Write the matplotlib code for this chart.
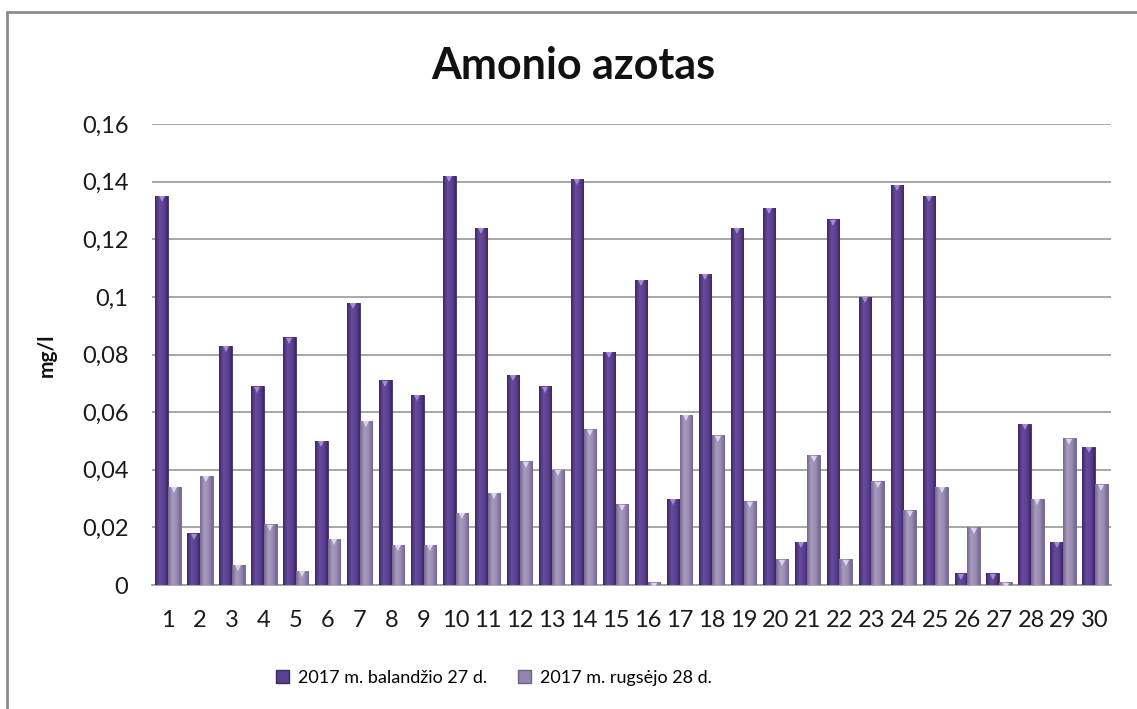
import matplotlib
matplotlib.use("Agg")
import matplotlib.pyplot as plt
import numpy as np
from matplotlib.colors import LinearSegmentedColormap
from matplotlib.patches import Rectangle

plt.rcParams['font.family'] = ['Lato', 'DejaVu Sans']

categories = [str(i) for i in range(1, 31)]
april = [0.135, 0.018, 0.083, 0.069, 0.086, 0.050, 0.098, 0.071, 0.066, 0.142,
         0.124, 0.073, 0.069, 0.141, 0.081, 0.106, 0.030, 0.108, 0.124, 0.131,
         0.015, 0.127, 0.100, 0.139, 0.135, 0.004, 0.004, 0.056, 0.015, 0.048]
september = [0.034, 0.038, 0.007, 0.021, 0.005, 0.016, 0.057, 0.014, 0.014, 0.025,
             0.032, 0.043, 0.040, 0.054, 0.028, 0.001, 0.059, 0.052, 0.029, 0.009,
             0.045, 0.009, 0.036, 0.026, 0.034, 0.020, 0.001, 0.030, 0.051, 0.035]
series_names = ['2017 m. balandžio 27 d.', '2017 m. rugsėjo 28 d.']
yticks = [0, 0.02, 0.04, 0.06, 0.08, 0.1, 0.12, 0.14, 0.16]
ytick_labels = ['0', '0,02', '0,04', '0,06', '0,08', '0,1', '0,12', '0,14', '0,16']

W, H = 1137, 709
fig = plt.figure(figsize=(W / 100, H / 100), dpi=100)
fig.patch.set_facecolor('white')

# chart border (extends beyond the picture at right and bottom)
fig.add_artist(Rectangle((7 / W, -0.05), 1.2, 1 - 12 / H + 0.05, transform=fig.transFigure,
                         fill=False, edgecolor='#8c8c8c', linewidth=2.0))

ax = fig.add_axes([152 / W, 1 - 585 / H, (1111 - 152) / W, (585 - 124) / H])
x = np.arange(len(categories))
bw = 0.39
dark_c = '#5a3f8c'
light_c = '#9484ae'
b1 = ax.bar(x - 0.2, april, bw, color=dark_c, edgecolor='#3e2a63', linewidth=0.6, zorder=3,
            label=series_names[0])
b2 = ax.bar(x + 0.2, september, bw, color=light_c, edgecolor='#6f6288', linewidth=0.6, zorder=3,
            label=series_names[1])

# horizontal shading of bars
grad = np.linspace(0, 1, 64).reshape(1, -1)
cm_dark = LinearSegmentedColormap.from_list('d', ['#3d2766', '#67499c', '#5e4290', '#3d2766'])
cm_light = LinearSegmentedColormap.from_list('l', ['#74668e', '#a99cc0', '#9a8bb3', '#74668e'])
for bars, cm in ((b1, cm_dark), (b2, cm_light)):
    for p in bars:
        x0, y0 = p.get_x(), p.get_y()
        w, h = p.get_width(), p.get_height()
        if h <= 0:
            continue
        im = ax.imshow(grad, cmap=cm, extent=(x0, x0 + w, y0, y0 + h), aspect='auto',
                       zorder=3.5, interpolation='bilinear')
        im.set_clip_path(p)

# small bevel highlight at the top of each bar
ax.plot(x - 0.2, np.array(april) - 0.0012, linestyle='none', marker='v', markersize=4.5,
        color='#a48cd0', markeredgewidth=0, zorder=4)
ax.plot(x + 0.2, np.array(september) - 0.0012, linestyle='none', marker='v', markersize=4.5,
        color='#ddd3ee', markeredgewidth=0, zorder=4)

ax.set_xlim(-0.5, len(categories) - 0.5)
ax.set_ylim(0, 0.16)
ax.set_yticks(yticks)
ax.set_yticklabels(ytick_labels)
ax.set_xticks(x)
ax.set_xticklabels(categories)
ax.tick_params(axis='both', length=0, labelsize=17, colors='#1a1a1a')
ax.tick_params(axis='y', pad=17)
ax.tick_params(axis='x', pad=18)
ax.grid(axis='y', color='#a0a0a0', linewidth=1.3, zorder=0)
ax.set_axisbelow(True)
for s in ['top', 'right', 'left']:
    ax.spines[s].set_visible(False)
ax.spines['bottom'].set_color('#a0a0a0')
ax.spines['bottom'].set_linewidth(1.3)
ax.set_ylim(0, 0.16)

fig.text(573 / W, 1 - 66 / H, 'Amonio azotas', ha='center', va='center',
         fontsize=31, fontweight='bold', color='#111111')
fig.text(47 / W, 1 - 355 / H, 'mg/l', ha='center', va='center', rotation=90,
         fontsize=15, fontweight='bold', color='#111111')

handles = [Rectangle((0, 0), 1, 1, facecolor=dark_c, edgecolor='#3e2a63'),
           Rectangle((0, 0), 1, 1, facecolor=light_c, edgecolor='#6f6288')]
fig.legend(handles, series_names, loc='center', bbox_to_anchor=(494 / W, 1 - 678 / H),
           ncol=2, frameon=False, fontsize=13, handlelength=0.7, handleheight=0.7,
           handletextpad=0.5, columnspacing=1.7)

fig.savefig('out.png', dpi=100)
